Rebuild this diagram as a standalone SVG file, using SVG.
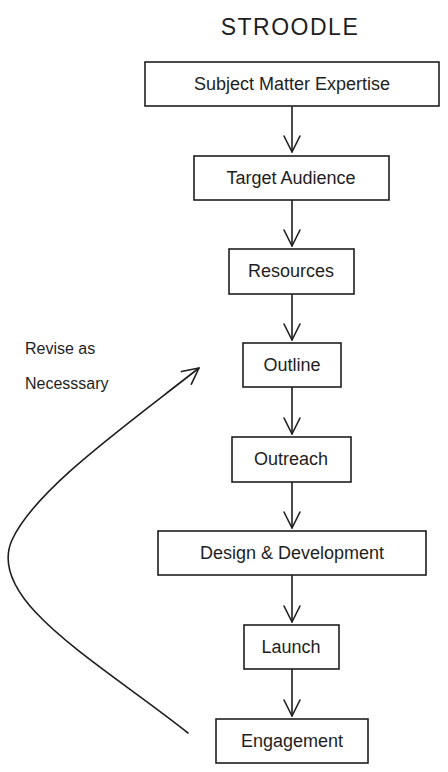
<svg xmlns="http://www.w3.org/2000/svg" width="448" height="772" viewBox="0 0 448 772">
<style>
.box{fill:#ffffff;stroke:#1e1e1e;stroke-width:1.6}
.lbl{font-family:"Liberation Sans",Arial,sans-serif;font-size:18px;fill:#1e1e1e;text-anchor:middle;dominant-baseline:central}
.note{font-family:"Liberation Sans",Arial,sans-serif;font-size:16px;fill:#1e1e1e}
.ttl{font-family:"Liberation Sans",Arial,sans-serif;font-size:23px;fill:#1e1e1e;text-anchor:middle;letter-spacing:1.5px}
.edge{fill:none;stroke:#1e1e1e;stroke-width:1.6;stroke-linecap:round;stroke-linejoin:round}
</style>
<defs>
<marker id="ah" viewBox="0 0 20 20" refX="18" refY="10" markerWidth="20" markerHeight="20" markerUnits="userSpaceOnUse" orient="auto">
<path d="M2,2 L18,10 L2,18" fill="none" stroke="#1e1e1e" stroke-width="1.6" stroke-linecap="round" stroke-linejoin="round"/>
</marker>
</defs>
<rect width="448" height="772" fill="#ffffff"/>
<text class="ttl" x="290" y="35">STROODLE</text>
<g id="connectors">
<path class="edge" d="M292,107 L292,152" marker-end="url(#ah)"/>
<path class="edge" d="M292,200 L292,246" marker-end="url(#ah)"/>
<path class="edge" d="M292,294 L292,340" marker-end="url(#ah)"/>
<path class="edge" d="M292,387 L292,434" marker-end="url(#ah)"/>
<path class="edge" d="M292,482 L292,528" marker-end="url(#ah)"/>
<path class="edge" d="M292,575 L292,622" marker-end="url(#ah)"/>
<path class="edge" d="M292,669 L292,716" marker-end="url(#ah)"/>
<path class="edge" d="M188,733 C100,663 -15,600 12,540 C35,490 120,430 199,368" marker-end="url(#ah)"/>
</g>
<g id="n1"><rect class="box" x="145" y="62" width="294" height="44"/><text class="lbl" x="292" y="84">Subject Matter Expertise</text></g>
<g id="n2"><rect class="box" x="194" y="156" width="195" height="44"/><text class="lbl" x="291" y="178">Target Audience</text></g>
<g id="n3"><rect class="box" x="229" y="249" width="125" height="45"/><text class="lbl" x="291" y="271">Resources</text></g>
<g id="n4"><rect class="box" x="243" y="343" width="98" height="44"/><text class="lbl" x="292" y="365">Outline</text></g>
<g id="n5"><rect class="box" x="232" y="437" width="119" height="45"/><text class="lbl" x="291" y="459">Outreach</text></g>
<g id="n6"><rect class="box" x="158" y="531" width="268" height="44"/><text class="lbl" x="292" y="553">Design &amp; Development</text></g>
<g id="n7"><rect class="box" x="244" y="625" width="95" height="44"/><text class="lbl" x="291" y="647">Launch</text></g>
<g id="n8"><rect class="box" x="216" y="719" width="152" height="44"/><text class="lbl" x="292" y="741">Engagement</text></g>
<g id="note"><text class="note" x="25" y="354">Revise as</text><text class="note" x="25" y="389">Necesssary</text></g>
</svg>
